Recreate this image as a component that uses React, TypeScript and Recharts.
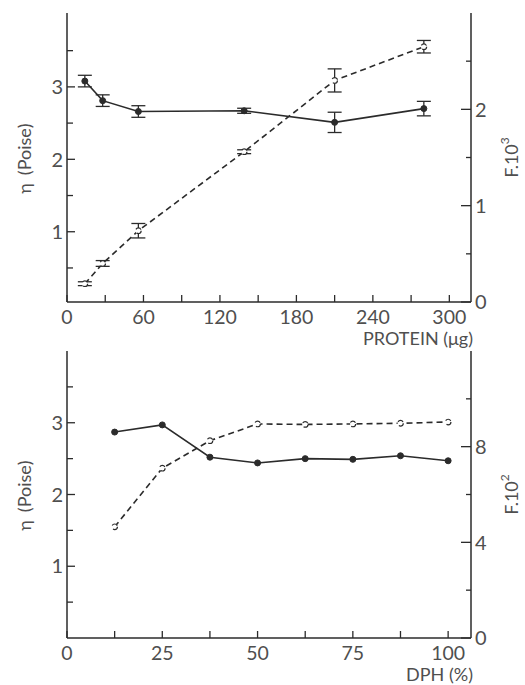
import { LineChart, Line, XAxis, YAxis, ErrorBar, Label } from 'recharts';

const INK = '#2b2b2b';
const TEXT = '#4f4f4f';
const FONT = 'Lato, "Open Sans", sans-serif';

// upper panel: viscosity and F against protein
const proteinUg = [14, 28, 56, 139, 210, 280];
const etaProtein = [3.08, 2.81, 2.66, 2.67, 2.51, 2.7];
const etaProteinErr = [0.08, 0.08, 0.08, 0.035, 0.14, 0.1];
const fProtein = [0.19, 0.4, 0.74, 1.56, 2.3, 2.65];
const fProteinErr = [0.02, 0.03, 0.075, 0.02, 0.12, 0.065];

const proteinTicks = [0, 30, 60, 90, 120, 150, 180, 210, 240, 270, 300];
const proteinLabels = [0, 60, 120, 180, 240, 300];
const etaTicks = [0.5, 1, 1.5, 2, 2.5, 3, 3.5];
const etaLabels = [1, 2, 3];
const fProteinTicks = [0, 0.5, 1, 1.5, 2, 2.5];
const fProteinLabels = [0, 1, 2];

// lower panel: viscosity and F against DPH
const dphPct = [12.5, 25, 37.5, 50, 62.5, 75, 87.5, 100];
const etaDph = [2.87, 2.97, 2.52, 2.44, 2.5, 2.49, 2.54, 2.47];
const fDph = [4.65, 7.1, 8.25, 8.95, 8.93, 8.95, 8.98, 9.03];

const dphTicks = [0, 12.5, 25, 37.5, 50, 62.5, 75, 87.5, 100];
const dphLabels = [0, 25, 50, 75, 100];
const fDphTicks = [0, 2, 4, 6, 8, 10];
const fDphLabels = [0, 4, 8];

const rowsProtein = proteinUg.map((x, i) => ({
  x,
  eta: etaProtein[i],
  etaErr: etaProteinErr[i],
  f: fProtein[i],
  fErr: fProteinErr[i],
}));

const rowsDph = dphPct.map((x, i) => ({ x, eta: etaDph[i], f: fDph[i] }));

const txt = { fill: TEXT, fontFamily: FONT };

const bottomTick = (labels: number[]) => (p: any) => {
  const v = p.payload.value;
  return (
    <g>
      <line x1={p.x} x2={p.x} y1={p.y} y2={p.y - 7} stroke={INK} strokeWidth={1.3} />
      {labels.includes(v) && (
        <text x={p.x} y={p.y + 22} textAnchor="middle" fontSize={19.5} {...txt}>
          {v}
        </text>
      )}
    </g>
  );
};

const topTick = (p: any) => (
  <line x1={p.x} x2={p.x} y1={p.y} y2={p.y + 7} stroke={INK} strokeWidth={1.3} />
);

const leftTick = (labels: number[]) => (p: any) => {
  const v = p.payload.value;
  const major = labels.includes(v);
  return (
    <g>
      <line x1={p.x} x2={p.x + (major ? 8 : 6)} y1={p.y} y2={p.y} stroke={INK} strokeWidth={1.3} />
      {major && (
        <text x={p.x - 4} y={p.y} dy="0.36em" textAnchor="end" fontSize={20} {...txt}>
          {v}
        </text>
      )}
    </g>
  );
};

const rightTick = (labels: number[]) => (p: any) => {
  const v = p.payload.value;
  const major = labels.includes(v);
  return (
    <g>
      <line x1={p.x - (major ? 10 : 5)} x2={p.x} y1={p.y} y2={p.y} stroke={INK} strokeWidth={1.3} />
      {major && (
        <text x={p.x + 4} y={p.y} dy="0.36em" textAnchor="start" fontSize={20} {...txt}>
          {v}
        </text>
      )}
    </g>
  );
};

const xTitle = (text: string, dy: number) => (p: any) => {
  const vb = p.viewBox;
  return (
    <text x={vb.x + vb.width + 2} y={vb.y + dy} textAnchor="end" fontSize={18} {...txt}>
      {text}
    </text>
  );
};

const etaTitle = (p: any) => {
  const vb = p.viewBox;
  const x = vb.x + 31;
  const y = vb.y + vb.height / 2 + 1;
  return (
    <text x={x} y={y} transform={`rotate(-90, ${x}, ${y})`} textAnchor="middle" fontSize={18} {...txt}>
      <tspan>η</tspan>
      <tspan dx={8}>(Poise)</tspan>
    </text>
  );
};

const fTitle = (exp: string) => (p: any) => {
  const vb = p.viewBox;
  const x = vb.x + 47;
  const y = vb.y + vb.height / 2;
  return (
    <text x={x} y={y} transform={`rotate(-90, ${x}, ${y})`} textAnchor="middle" fontSize={18} {...txt}>
      <tspan>F.10</tspan>
      <tspan dy={-9} fontSize={12}>
        {exp}
      </tspan>
    </text>
  );
};

const axisLine = { stroke: INK, strokeWidth: 1.5 };
const filledDot = { r: 3, fill: INK, stroke: INK, strokeWidth: 1 };
const openDot = { r: 2.8, fill: '#fff', stroke: INK, strokeWidth: 1.2 };

function Panel({
  data,
  height,
  top,
  axisHeight,
  xDomain,
  xTicks,
  xLabels,
  xText,
  xTextDy,
  etaDomain,
  fDomain,
  fTicks,
  fLabels,
  fExp,
  withErrors,
}: any) {
  return (
    <LineChart width={525} height={height} data={data} margin={{ top, right: 0, bottom: 0, left: 0 }}>
      <XAxis
        xAxisId="b"
        dataKey="x"
        type="number"
        domain={xDomain}
        allowDataOverflow
        ticks={xTicks}
        interval={0}
        height={axisHeight}
        tickSize={0}
        tickMargin={0}
        tickLine={false}
        axisLine={axisLine}
        tick={bottomTick(xLabels)}
      >
        <Label content={xTitle(xText, xTextDy)} />
      </XAxis>
      <XAxis
        xAxisId="t"
        orientation="top"
        type="number"
        domain={xDomain}
        allowDataOverflow
        ticks={xTicks}
        interval={0}
        height={0}
        tickSize={0}
        tickMargin={0}
        tickLine={false}
        axisLine={axisLine}
        tick={topTick}
      />
      <YAxis
        yAxisId="l"
        orientation="left"
        type="number"
        domain={etaDomain}
        allowDataOverflow
        ticks={etaTicks}
        interval={0}
        width={67}
        tickSize={0}
        tickMargin={0}
        tickLine={false}
        axisLine={axisLine}
        tick={leftTick(etaLabels)}
      >
        <Label content={etaTitle} />
      </YAxis>
      <YAxis
        yAxisId="r"
        orientation="right"
        type="number"
        domain={fDomain}
        allowDataOverflow
        ticks={fTicks}
        interval={0}
        width={54}
        tickSize={0}
        tickMargin={0}
        tickLine={false}
        axisLine={axisLine}
        tick={rightTick(fLabels)}
      >
        <Label content={fTitle(fExp)} />
      </YAxis>
      <Line
        xAxisId="b"
        yAxisId="r"
        dataKey="f"
        type="linear"
        stroke={INK}
        strokeWidth={1.6}
        strokeDasharray="6 4"
        dot={openDot}
        activeDot={false}
        isAnimationActive={false}
      >
        {withErrors && (
          <ErrorBar dataKey="fErr" direction="y" width={7} stroke={INK} strokeWidth={1.3} isAnimationActive={false} />
        )}
      </Line>
      <Line
        xAxisId="b"
        yAxisId="l"
        dataKey="eta"
        type="linear"
        stroke={INK}
        strokeWidth={1.6}
        dot={filledDot}
        activeDot={false}
        isAnimationActive={false}
      >
        {withErrors && (
          <ErrorBar dataKey="etaErr" direction="y" width={7} stroke={INK} strokeWidth={1.3} isAnimationActive={false} />
        )}
      </Line>
    </LineChart>
  );
}

export default function App() {
  return (
    <div style={{ position: 'absolute', left: 0, top: 0, width: 525, height: 685, background: '#fff' }}>
      <div style={{ position: 'absolute', left: 0, top: 0 }}>
        <Panel
          data={rowsProtein}
          height={350}
          top={13}
          axisHeight={48}
          xDomain={[0, 317]}
          xTicks={proteinTicks}
          xLabels={proteinLabels}
          xText="PROTEIN (μg)"
          xTextDy={43}
          etaDomain={[0.03, 4.02]}
          fDomain={[0, 3]}
          fTicks={fProteinTicks}
          fLabels={fProteinLabels}
          fExp="3"
          withErrors
        />
      </div>
      <div style={{ position: 'absolute', left: 0, top: 336 }}>
        <Panel
          data={rowsDph}
          height={349}
          top={15}
          axisHeight={47}
          xDomain={[0, 106]}
          xTicks={dphTicks}
          xLabels={dphLabels}
          xText="DPH (%)"
          xTextDy={43}
          etaDomain={[0, 4]}
          fDomain={[0, 12]}
          fTicks={fDphTicks}
          fLabels={fDphLabels}
          fExp="2"
          withErrors={false}
        />
      </div>
    </div>
  );
}
